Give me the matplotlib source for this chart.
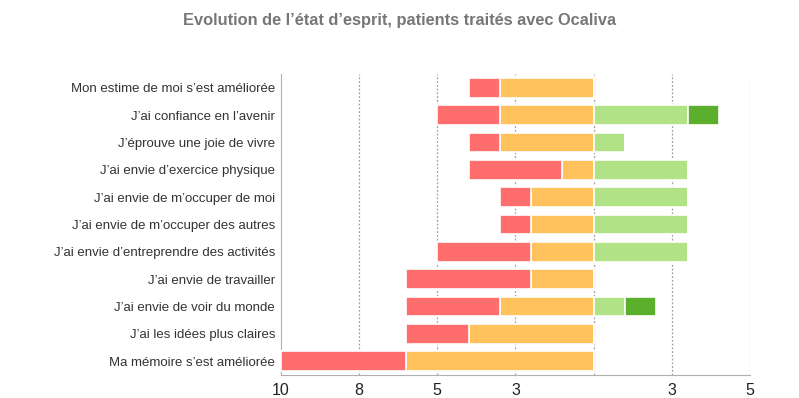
import matplotlib.pyplot as plt
import numpy as np

# données (de haut en bas)
items = [
    "Mon estime de moi s\u2019est améliorée",
    "J\u2019ai confiance en l\u2019avenir",
    "J\u2019éprouve une joie de vivre",
    "J\u2019ai envie d\u2019exercice physique",
    "J\u2019ai envie de m\u2019occuper de moi",
    "J\u2019ai envie de m\u2019occuper des autres",
    "J\u2019ai envie d\u2019entreprendre des activités",
    "J\u2019ai envie de travailler",
    "J\u2019ai envie de voir du monde",
    "J\u2019ai les idées plus claires",
    "Ma mémoire s\u2019est améliorée",
]
pas_du_tout = [1, 2, 1, 3, 1, 1, 3, 4, 3, 2, 4]
plutot_pas = [3, 3, 3, 1, 2, 2, 2, 2, 3, 4, 6]
plutot_oui = [0, 3, 1, 3, 3, 3, 3, 0, 1, 0, 0]
tout_a_fait = [0, 1, 0, 0, 0, 0, 0, 0, 1, 0, 0]

ticks = [-10, -7.5, -5, -2.5, 0, 2.5, 5]
tick_labels = ["10", "8", "5", "3", "", "3", "5"]

plt.rcParams['font.family'] = ['Liberation Sans', 'DejaVu Sans']

fig = plt.figure(figsize=(7.99, 3.98), dpi=100)
ax = fig.add_axes([0.3513, 0.0578, 0.5877, 0.7563])

y = np.arange(len(items))
red = np.array(pas_du_tout)
yel = np.array(plutot_pas)
lg = np.array(plutot_oui)
dg = np.array(tout_a_fait)

h = 0.72
kw = dict(height=h, edgecolor='white', linewidth=1.2, zorder=3)
ax.barh(y, yel, left=-yel, color='#FFC25C', **kw)
ax.barh(y, red, left=-(yel + red), color='#FF6D6D', **kw)
ax.barh(y, lg, left=0, color='#B2E286', **kw)
ax.barh(y, dg, left=lg, color='#5BAF2C', **kw)

ax.set_xlim(-10, 5)
ax.set_ylim(len(items) - 0.5, -0.5)
ax.set_xticks(ticks)
ax.set_xticklabels(tick_labels, fontsize=11.5, color='#222222')
ax.set_yticks(y)
ax.set_yticklabels(items, fontsize=9.5, color='#333333')
ax.tick_params(length=0)
ax.tick_params(axis='y', pad=4)
ax.tick_params(axis='x', pad=6)

for t in ticks[1:]:
    ax.axvline(t, color='#a0a0a0', linestyle=(0, (1.5, 1.5)), linewidth=0.9, zorder=1)

for s in ['top', 'right']:
    ax.spines[s].set_visible(False)
ax.spines['left'].set_color('#bbb0a8')
ax.spines['bottom'].set_color('#b0b0b0')

fig.text(0.5, 0.948, "Evolution de l\u2019état d\u2019esprit, patients traités avec Ocaliva",
         ha='center', va='center', fontsize=11.8, fontweight='bold', color='#777777')

plt.savefig('out.png', dpi=100)
